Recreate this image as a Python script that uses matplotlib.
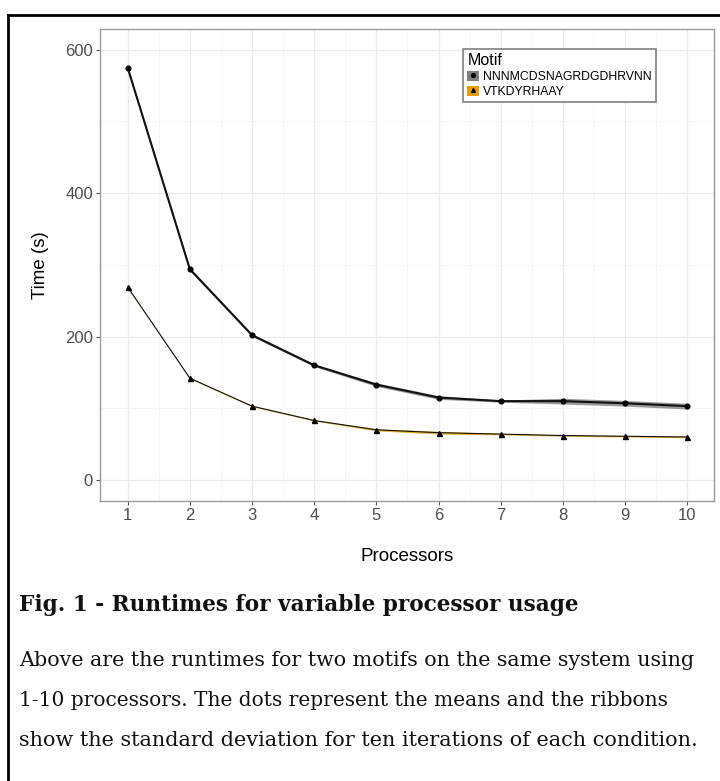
import matplotlib
matplotlib.use("Agg")
import matplotlib.pyplot as plt
import numpy as np
from matplotlib.lines import Line2D
from matplotlib.patches import Patch

# ---- data ----
processors = [1, 2, 3, 4, 5, 6, 7, 8, 9, 10]
motif_labels = ["NNNMCDSNAGRDGDHRVNN", "VTKDYRHAAY"]
mean_long = [575, 294, 202, 160, 133, 115, 110, 110, 107, 103]
sd_long = [1.8, 2.2, 1.8, 1.8, 2.5, 2.5, 1.5, 4.0, 4.0, 4.0]
mean_short = [269, 142, 103, 83, 70, 66, 64, 62, 61, 60]
sd_short = [0.8, 0.8, 0.8, 0.8, 1.5, 2.0, 1.0, 1.0, 1.0, 1.2]
y_ticks = [0, 200, 400, 600]
x_label = "Processors"
y_label = "Time (s)"
legend_title = "Motif"
caption_title = "Fig. 1 - Runtimes for variable processor usage"
caption_lines = [
    "Above are the runtimes for two motifs on the same system using",
    "1-10 processors. The dots represent the means and the ribbons",
    "show the standard deviation for ten iterations of each condition.",
]

W, H = 720, 781
fig = plt.figure(figsize=(W / 100, H / 100), dpi=100)
plt.rcParams['font.family'] = ['Liberation Sans', 'DejaVu Sans']

ax = fig.add_axes([100 / W, 1 - 501 / H, (714 - 100) / W, (501 - 29) / H])
ax.set_xlim(0.555, 10.43)
ax.set_ylim(-29.3, 629)

x = np.array(processors)
fills = ["#7f7f7f", "#E69F00"]
means = [np.array(mean_long), np.array(mean_short)]
sds = [np.array(sd_long), np.array(sd_short)]
markers = ["o", "^"]
lws = [1.5, 0.8]
for m, s, fc, mk, lw in zip(means, sds, fills, markers, lws):
    ax.fill_between(x, m - s, m + s, color=fc, alpha=0.8, lw=0, zorder=2)
    ax.plot(x, m, color="#111111", lw=lw, zorder=3)
    ax.plot(x, m, ls="none", marker=mk, color="black", ms=3.6 if mk == "^" else 3.4, zorder=4)

# grid
ax.set_yticks(y_ticks)
ax.set_yticks([100, 300, 500], minor=True)
ax.set_xticks(processors)
ax.set_xticks(np.arange(1.5, 10.5, 1.0), minor=True)
ax.grid(True, which="major", color="#ebebeb", lw=0.9, zorder=0)
ax.grid(True, which="minor", color="#f4f4f4", lw=0.6, zorder=0)
ax.set_axisbelow(True)
ax.tick_params(which="minor", length=0)
ax.tick_params(which="major", length=3, width=0.8, color="#555555",
               labelsize=12, labelcolor="#4d4d4d", pad=2)
for sp in ax.spines.values():
    sp.set_color("#9a9a9a")
    sp.set_linewidth(1.0)

ax.set_xlabel(x_label, fontsize=13.5, color="black", labelpad=18)
ax.set_ylabel(y_label, fontsize=13.5, color="black", labelpad=12)

# legend
handles = []
for fc, mk in zip(fills, markers):
    p = Patch(facecolor=fc, edgecolor="none")
    l = Line2D([], [], ls="none", marker=mk, color="black", ms=2.8)
    handles.append((p, l))
leg = fig.legend(handles, motif_labels, title=legend_title, loc="upper left",
                 bbox_to_anchor=(463 / W, 1 - 49 / H), bbox_transform=fig.transFigure,
                 borderaxespad=0, fontsize=8.8, title_fontsize=11.5,
                 handlelength=0.95, handleheight=0.95, handletextpad=0.35,
                 labelspacing=0.2, borderpad=0.35, fancybox=False,
                 alignment="left", framealpha=1)
leg.get_frame().set_edgecolor("#7f7f7f")
leg.get_frame().set_linewidth(1.2)

# border (top and left)
fig.add_artist(Line2D([8 / W, 1.0], [1 - 15 / H, 1 - 15 / H], transform=fig.transFigure,
                      color="black", lw=2.0))
fig.add_artist(Line2D([8 / W, 8 / W], [1 - 15 / H, 0.0], transform=fig.transFigure,
                      color="black", lw=2.0))

# caption
fig.canvas.draw()
renderer = fig.canvas.get_renderer()

def fit_text(txt, xpx, ypx, target_w, weight="normal", size0=14):
    t = fig.text(xpx / W, 1 - ypx / H, txt, ha="left", va="center",
                 fontsize=size0, family=["DejaVu Serif"], weight=weight, color="#111111")
    w = t.get_window_extent(renderer).width
    t.set_fontsize(size0 * target_w / w)
    return t

fit_text(caption_title, 19, 605, 562, weight="bold")
fit_text(caption_lines[0], 19, 660, 681)
fit_text(caption_lines[1], 19, 700, 649)
fit_text(caption_lines[2], 19, 741, 681)

fig.savefig("out.png", dpi=100)
